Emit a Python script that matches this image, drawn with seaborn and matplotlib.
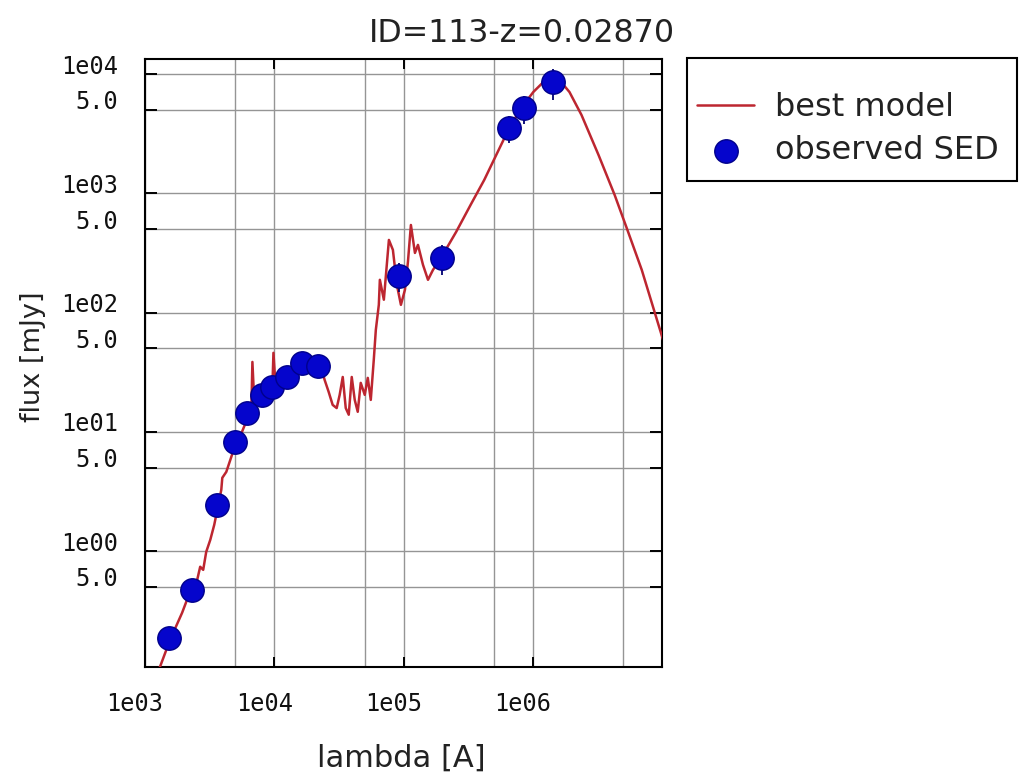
import matplotlib
matplotlib.use("Agg")
import matplotlib.pyplot as plt
import seaborn as sns
from matplotlib.patches import Rectangle
from matplotlib.ticker import FixedLocator, FixedFormatter, NullFormatter
from matplotlib.transforms import ScaledTranslation

title = "ID=113-z=0.02870"
x_label = "lambda [A]"
y_label = "flux [mJy]"
model_name = "best model"
obs_name = "observed SED"

# Observed photometry (wavelength in Angstrom, flux in mJy)
obs_lambda = [1536, 2317, 3620, 5000, 6190, 8090, 9680, 12650, 16250, 21630,
              92000, 198600, 658000, 861000, 1445000]
obs_flux = [0.187, 0.473, 2.44, 8.2, 14.4, 20.4, 23.8, 28.8, 37.8, 35.6,
            203, 287, 3525, 5190, 8570]
obs_err = [0.015, 0.03, 0.15, 0.5, 0.9, 1.2, 1.5, 2.0, 3.0, 3.0,
           55, 80, 900, 1400, 2500]

# Best-fit model spectrum
model_lambda = [1153, 1307, 1563, 1936, 2157, 2317, 2535, 2673, 2820, 2976,
                3199, 3434, 3690, 3893, 3963, 4256, 4571, 4909, 5468, 6087,
                6653, 6776, 7020, 7814, 8855, 9683, 9857, 10212, 11580, 13370,
                15150, 17470, 20150, 22840, 24540, 26360, 28310, 30410, 32080, 33880,
                35740, 37700, 39770, 41950, 44250, 46680, 50130, 52920, 55830, 58890,
                61080, 64430, 65620, 70470, 77100, 82790, 88920, 95500, 102600, 108200,
                114100, 122600, 129400, 141500, 154700, 169200, 195000, 255400, 333400, 421000,
                531000, 658000, 815000, 1010000, 1231000, 1394000, 1609000, 1923000, 2384000, 3228000,
                4301000, 5330000, 6970000, 10300000]
model_flux = [0.0865, 0.107, 0.180, 0.303, 0.413, 0.492, 0.574, 0.738, 0.695, 0.984,
              1.24, 1.66, 2.44, 3.26, 4.11, 4.61, 5.81, 7.32, 9.24, 12.3,
              15.3, 38.5, 16.8, 19.6, 22.5, 24.3, 45.9, 25.2, 28.3, 32.4,
              37.1, 39.3, 37.8, 35.7, 27.2, 21.6, 16.8, 15.8, 20.4, 28.8,
              15.8, 13.9, 28.8, 18.5, 14.7, 25.7, 20.4, 28.3, 18.5, 40.1,
              71.5, 116, 188, 128, 406, 335, 170, 116, 155, 265,
              542, 316, 369, 251, 188, 228, 287, 474, 813, 1291,
              2178, 3525, 5190, 7063, 8734, 9437, 8907, 7063, 4530, 2094,
              968, 512, 228, 56.8]

x_major = [1e3, 1e4, 1e5, 1e6]
x_major_labels = ["1e03", "1e04", "1e05", "1e06"]
x_minor = [5e3, 5e4, 5e5, 5e6]
y_major = [1e0, 1e1, 1e2, 1e3, 1e4]
y_major_labels = ["1e00", "1e01", "1e02", "1e03", "1e04"]
y_minor = [5e-1, 5e0, 5e1, 5e2, 5e3]
y_minor_labels = ["5.0", "5.0", "5.0", "5.0", "5.0"]

sns.set_theme(style="white")
plt.rcParams["font.family"] = ["DejaVu Sans"]

W, H, DPI = 1020, 778, 100
fig = plt.figure(figsize=(W / DPI, H / DPI), dpi=DPI)
fig.patch.set_facecolor("white")
ax = fig.add_axes([145 / W, 1 - 667 / H, 517 / W, 608 / H])
ax.set_facecolor("white")
ax.set_xscale("log")
ax.set_yscale("log")

line_color = "#bd2630"
dot_color = "#0505cc"

sns.lineplot(x=model_lambda, y=model_flux, sort=False, estimator=None,
             color=line_color, linewidth=1.8, ax=ax, label=model_name, zorder=3)
ax.errorbar(obs_lambda, obs_flux, yerr=obs_err, fmt="none",
            ecolor="#000070", elinewidth=1.3, capsize=0, zorder=4)
sns.scatterplot(x=obs_lambda, y=obs_flux, s=285, color=dot_color,
                edgecolor="#00008b", linewidth=1.0, ax=ax,
                label=obs_name, zorder=5)

ax.set_xlim(1e3, 1e7)
ax.set_ylim(0.1065, 13360)

ax.xaxis.set_major_locator(FixedLocator(x_major))
ax.xaxis.set_major_formatter(FixedFormatter(x_major_labels))
ax.xaxis.set_minor_locator(FixedLocator(x_minor))
ax.xaxis.set_minor_formatter(NullFormatter())
ax.yaxis.set_major_locator(FixedLocator(y_major))
ax.yaxis.set_major_formatter(FixedFormatter(y_major_labels))
ax.yaxis.set_minor_locator(FixedLocator(y_minor))
ax.yaxis.set_minor_formatter(FixedFormatter(y_minor_labels))

ax.grid(True, which="both", color="#959595", linewidth=1.0)
ax.set_axisbelow(True)

ax.tick_params(axis="x", which="major", direction="in", length=7.2, width=1.4,
               color="black", top=True, bottom=True, pad=18.0)
ax.tick_params(axis="x", which="minor", length=0, top=False, bottom=False)
ax.tick_params(axis="y", which="both", direction="in", length=8.6, width=1.4,
               color="black", left=True, right=True, pad=19.5)

for spine in ax.spines.values():
    spine.set_visible(True)
    spine.set_color("black")
    spine.set_linewidth(1.5)

tick_font = dict(family="DejaVu Sans Mono", size=17, color="#111111")
shift_x = ScaledTranslation(-10 / DPI, 0, fig.dpi_scale_trans)
shift_y = ScaledTranslation(0, 10 / DPI, fig.dpi_scale_trans)
for tick in ax.xaxis.get_major_ticks():
    tick.label1.set(**tick_font)
    tick.label1.set_transform(tick.label1.get_transform() + shift_x)
for tick in ax.yaxis.get_major_ticks() + ax.yaxis.get_minor_ticks():
    tick.label1.set(**tick_font)
    tick.label1.set_transform(tick.label1.get_transform() + shift_y)

ax.set_xlabel("")
ax.set_ylabel("")
fig.text(522 / W, 1 - 33 / H, title, ha="center", va="center",
         fontsize=22.8, color="#222222")
fig.text(401 / W, 1 - 758 / H, x_label, ha="center", va="center",
         fontsize=22, color="#222222")
fig.text(33 / W, 1 - 357 / H, y_label, ha="center", va="center",
         rotation=90, fontsize=19.5, color="#222222")

# Legend entries placed inside a separately drawn frame
leg = ax.legend(loc="upper left", bbox_to_anchor=(697 / W, 1 - 92 / H),
                bbox_transform=fig.transFigure, borderaxespad=0,
                frameon=False, fontsize=23, handlelength=1.8,
                handletextpad=0.64, borderpad=0.0, labelspacing=0.38)
for txt in leg.get_texts():
    txt.set_color("#222222")
fig.patches.append(Rectangle((687 / W, 1 - 181 / H), 330 / W, 123 / H,
                             transform=fig.transFigure, fill=False,
                             edgecolor="black", linewidth=1.5, zorder=10))

fig.savefig("out.png", dpi=DPI, facecolor="white")
